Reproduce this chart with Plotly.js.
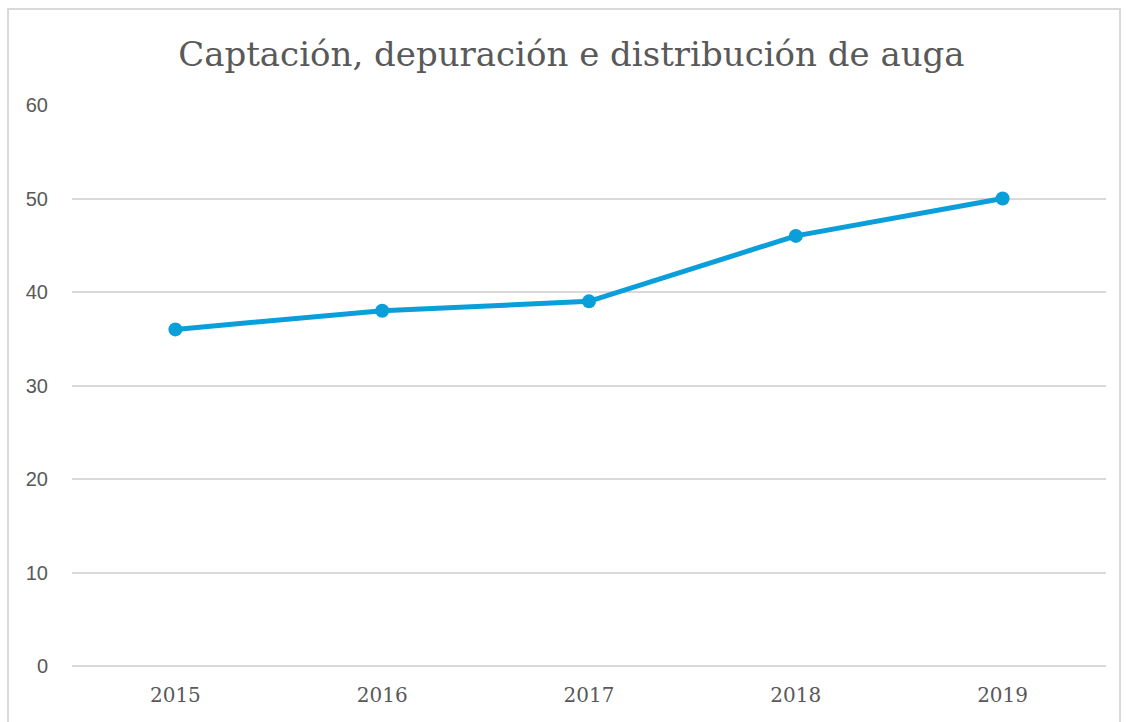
<!DOCTYPE html>
<html>
<head>
<meta charset="utf-8">
<script src="https://cdn.plot.ly/plotly-3.0.1.min.js"></script>
<style>
html,body{margin:0;padding:0;background:#fff;}
#wrap{position:relative;width:1127px;height:722px;overflow:hidden;}
#chart{position:absolute;left:0;top:0;width:1127px;height:722px;}
#frame{position:absolute;left:7px;top:8px;width:1110px;height:740px;border:2px solid #d9d9d9;pointer-events:none;}
</style>
</head>
<body>
<div id="wrap">
<div id="chart"></div>
<div id="frame"></div>
</div>
<script>
const years = ['2015', '2016', '2017', '2018', '2019'];
const values = [36, 38, 39, 46, 50];
const yTicks = [0, 10, 20, 30, 40, 50, 60];
const chartTitle = 'Captación, depuración e distribución de auga';

const trace = {
  x: years,
  y: values,
  type: 'scatter',
  mode: 'lines+markers',
  line: {color: '#0A9EDB', width: 5},
  marker: {color: '#0A9EDB', size: 14},
  hoverinfo: 'x+y'
};

const layout = {
  width: 1127,
  height: 722,
  margin: {l: 72, r: 21, t: 105, b: 56},
  paper_bgcolor: '#ffffff',
  plot_bgcolor: '#ffffff',
  showlegend: false,
  title: {
    text: chartTitle,
    font: {family: 'DejaVu Serif', size: 34, color: '#595959'},
    x: 0.507, xanchor: 'center',
    y: 0.925, yanchor: 'middle'
  },
  xaxis: {
    type: 'category',
    range: [-0.5, 4.5],
    showgrid: false,
    showline: false,
    zeroline: false,
    ticks: '',
    ticklabelstandoff: 15,
    tickfont: {family: 'DejaVu Serif', size: 20, color: '#595959'}
  },
  yaxis: {
    range: [0, 60],
    tickvals: yTicks,
    ticktext: yTicks.map(String),
    showgrid: true,
    gridcolor: '#d9d9d9',
    gridwidth: 2,
    zeroline: true,
    zerolinecolor: '#d9d9d9',
    zerolinewidth: 2,
    showline: false,
    ticks: '',
    ticklabelstandoff: 23,
    tickfont: {family: 'Liberation Sans', size: 20, color: '#595959'}
  }
};

Plotly.newPlot('chart', [trace], layout, {displayModeBar: false, staticPlot: false});
</script>
</body>
</html>
